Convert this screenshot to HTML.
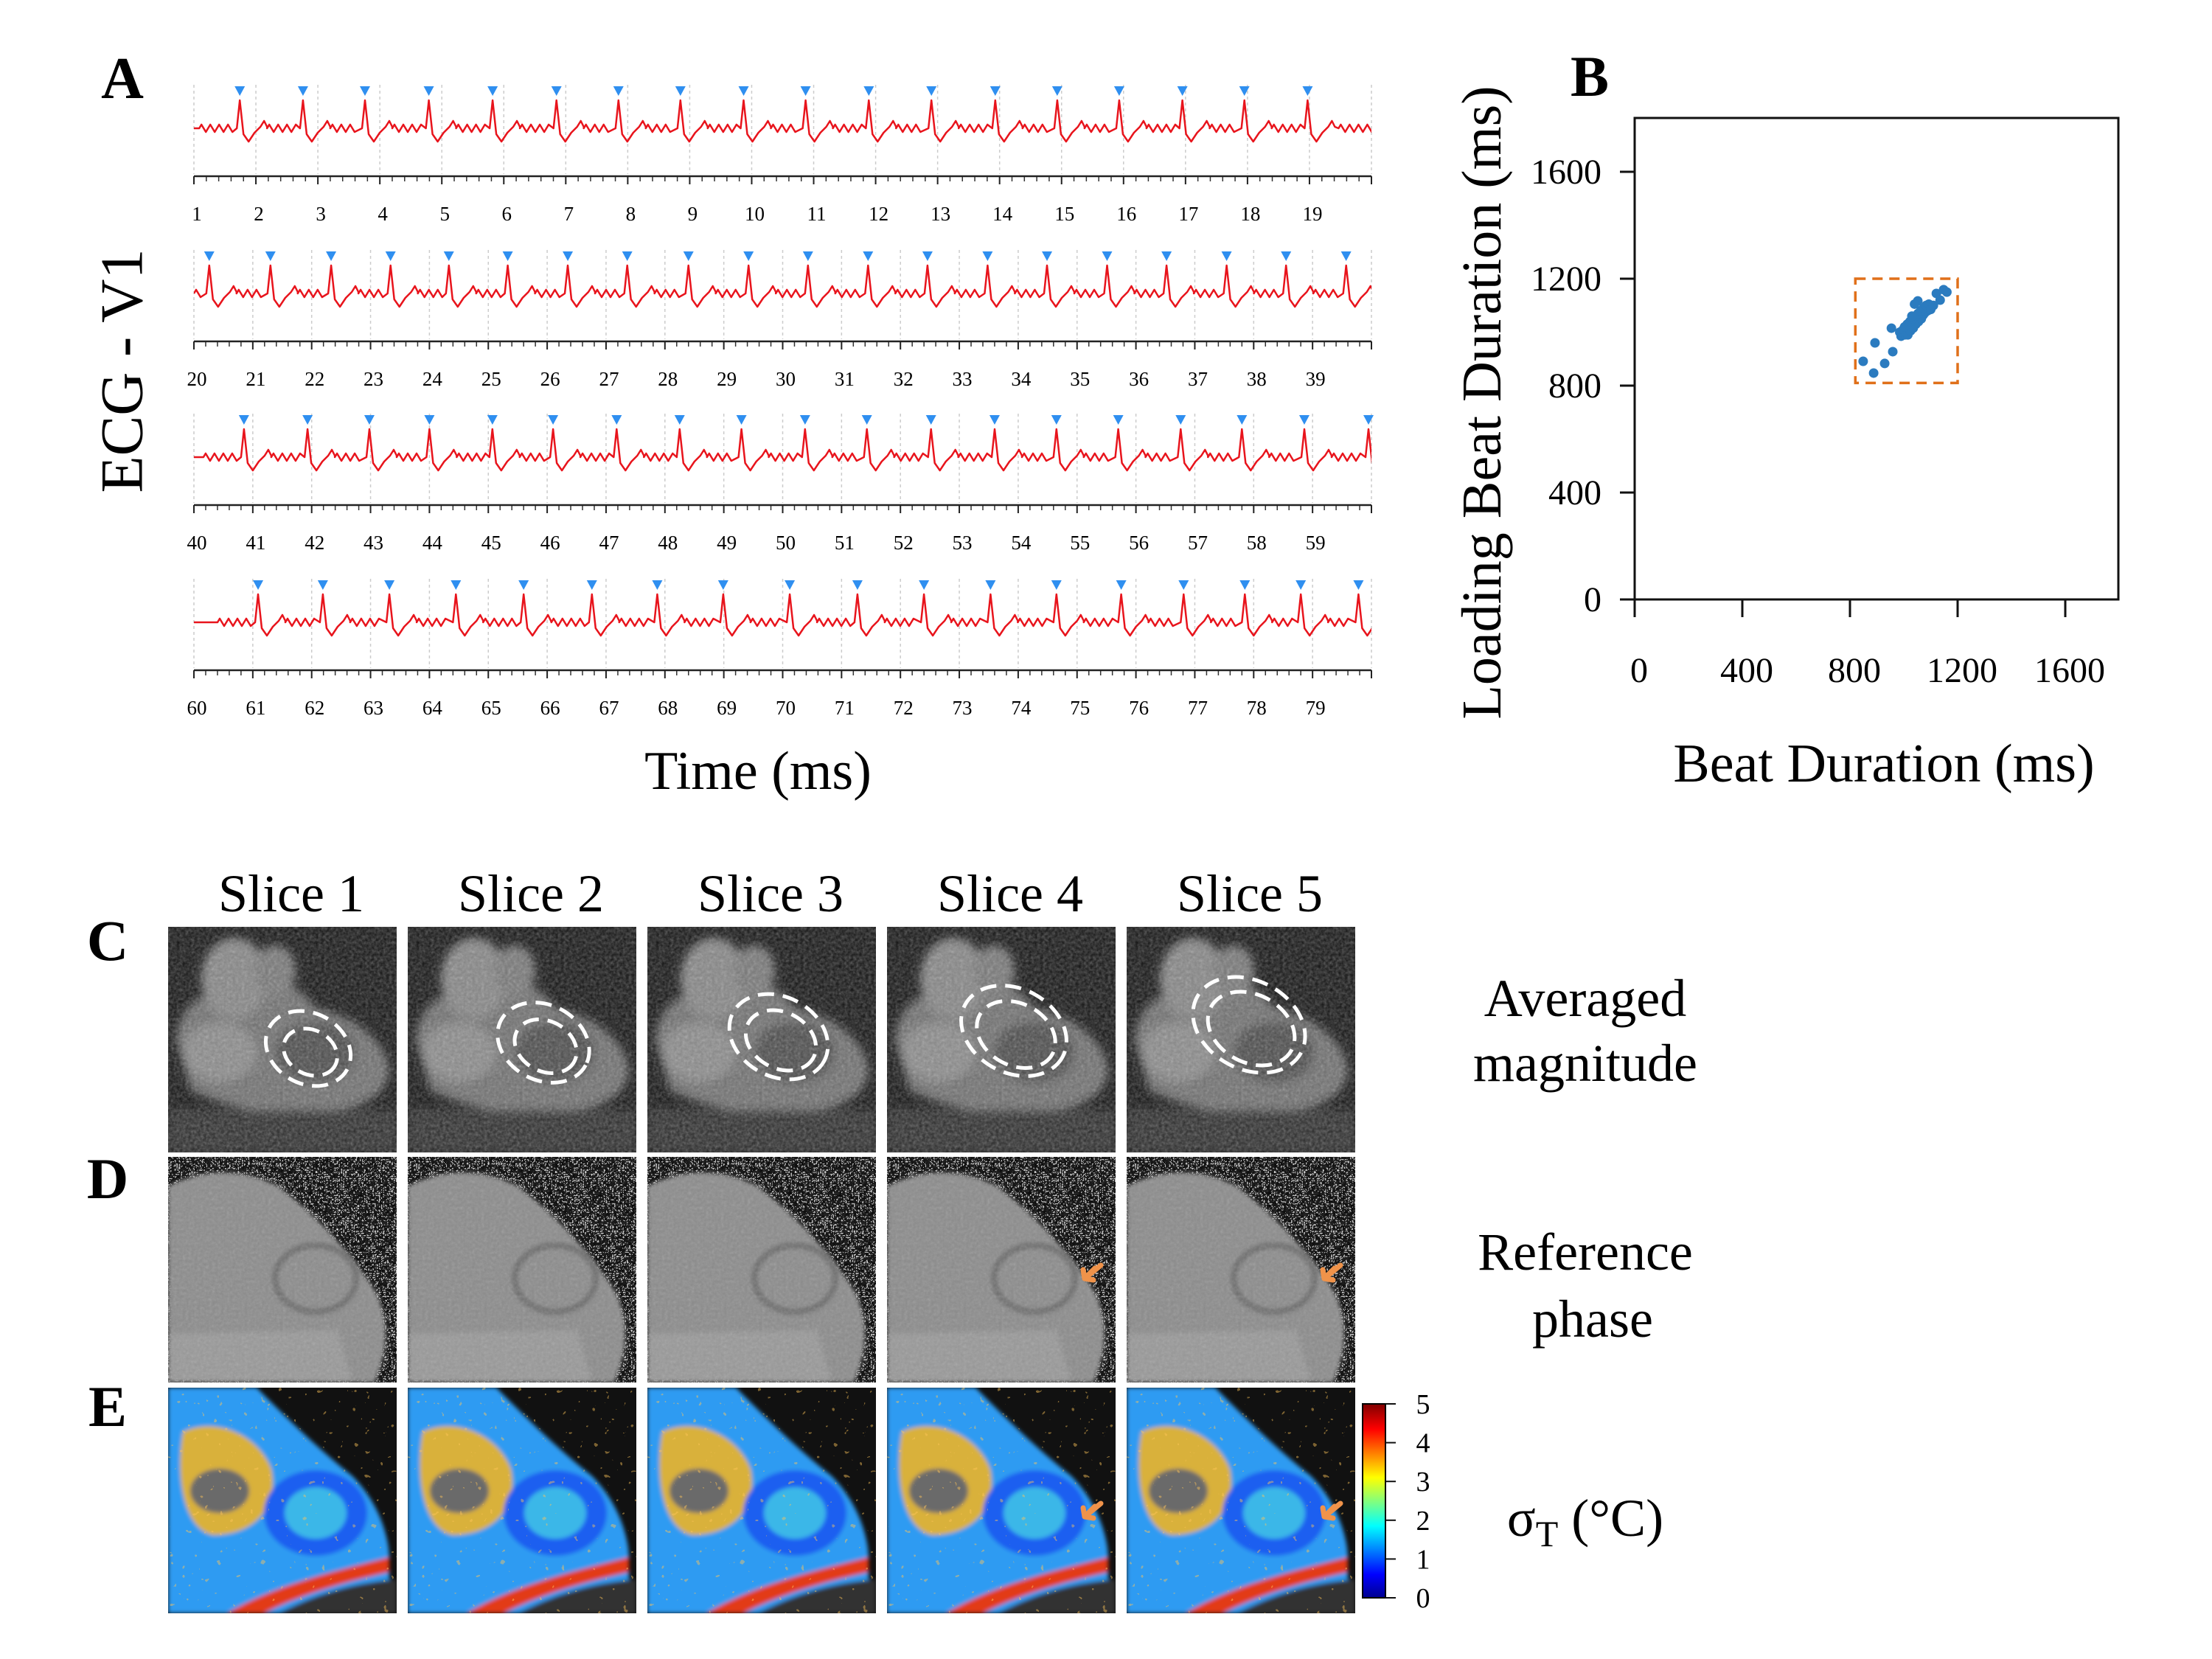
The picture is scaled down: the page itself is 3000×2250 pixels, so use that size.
<!DOCTYPE html>
<html><head><meta charset="utf-8"><style>
html,body{margin:0;padding:0;background:#fff}
svg{display:block}
text{font-family:"Liberation Serif",serif;fill:#000}
</style></head><body>
<svg id="fig" width="3000" height="2250" viewBox="0 0 3000 2250" xmlns="http://www.w3.org/2000/svg">
<defs>
  <linearGradient id="jet" x1="0" y1="1" x2="0" y2="0">
    <stop offset="0" stop-color="#00008f"/><stop offset="0.12" stop-color="#0000ff"/>
    <stop offset="0.37" stop-color="#00ffff"/><stop offset="0.62" stop-color="#ffff00"/>
    <stop offset="0.87" stop-color="#ff0000"/><stop offset="1" stop-color="#800000"/>
  </linearGradient>
  <filter id="blur6"><feGaussianBlur stdDeviation="6"/></filter>
  <filter id="blur3"><feGaussianBlur stdDeviation="3"/></filter>
  <filter id="grain" x="0" y="0" width="100%" height="100%">
    <feTurbulence type="fractalNoise" baseFrequency="0.25" numOctaves="2" seed="3"/>
    <feColorMatrix type="saturate" values="0"/>
    <feComponentTransfer><feFuncA type="table" tableValues="0 0.45"/></feComponentTransfer>
  </filter>
  <filter id="salt" x="0" y="0" width="100%" height="100%">
    <feTurbulence type="turbulence" baseFrequency="0.35" numOctaves="1" seed="7"/>
    <feColorMatrix type="saturate" values="0"/>
    <feComponentTransfer><feFuncR type="discrete" tableValues="0 0.5 1 1"/><feFuncG type="discrete" tableValues="0 0.5 1 1"/><feFuncB type="discrete" tableValues="0 0.5 1 1"/><feFuncA type="table" tableValues="1 1"/></feComponentTransfer>
  </filter>
  <filter id="speck" x="0" y="0" width="100%" height="100%">
    <feTurbulence type="fractalNoise" baseFrequency="0.12" numOctaves="2" seed="11"/>
    <feComponentTransfer><feFuncA type="discrete" tableValues="0 0 0 0.9"/></feComponentTransfer>
    <feColorMatrix type="matrix" values="0 0 0 0 1  0 0 0 0 0.55  0 0 0 0 0.1  0 0 0 1 0"/>
  </filter>
  <clipPath id="imgclip"><rect x="0" y="0" width="310" height="306"/></clipPath>
  <clipPath id="ecgclip"><rect x="263" y="0" width="1597" height="1000"/></clipPath>

  <g id="magImg">
    <rect width="310" height="306" fill="#101010"/>
    <g filter="url(#blur6)">
      <path d="M10,150 C20,90 70,80 100,90 C130,60 170,70 200,110 C250,120 290,150 300,190 C300,230 260,250 200,250 C140,260 60,240 30,220 Z" fill="#6e6e6e"/>
      <ellipse cx="90" cy="70" rx="45" ry="55" fill="#858585"/>
      <ellipse cx="145" cy="60" rx="28" ry="35" fill="#777"/>
      <ellipse cx="70" cy="170" rx="50" ry="40" fill="#8a8a8a"/>
      <ellipse cx="200" cy="170" rx="55" ry="42" fill="#4a4a4a"/>
      <rect x="0" y="248" width="310" height="58" fill="#2a2a2a"/>
    </g>
    <rect width="310" height="306" filter="url(#grain)"/>
  </g>
  <g id="phaseImg">
    <rect width="310" height="306" filter="url(#salt)"/>
    <g filter="url(#blur3)">
      <path d="M0,40 C60,10 110,20 150,40 C200,80 240,120 280,180 C300,220 300,260 280,306 L0,306 Z" fill="#8c8c8c"/>
      <path d="M0,240 L230,235 L250,306 L0,306 Z" fill="#999"/>
    </g>
    <ellipse cx="200" cy="165" rx="55" ry="45" fill="none" stroke="#6a6a6a" stroke-width="8" filter="url(#blur3)"/>
    <rect width="310" height="306" filter="url(#grain)" opacity="0.6"/>
  </g>
  <g id="sigmaImg">
    <rect width="310" height="306" fill="#111"/>
    <g filter="url(#blur3)">
      <path d="M0,0 L120,0 C160,40 200,80 250,120 C290,160 300,210 300,230 L300,306 L0,306 Z" fill="#2f9bf2"/>
      <path d="M20,60 C60,40 120,60 140,110 C150,160 120,200 60,200 C20,190 10,120 20,60 Z" fill="#d9b13a"/>
      <ellipse cx="70" cy="140" rx="40" ry="30" fill="#6b6b6b"/>
      <ellipse cx="200" cy="170" rx="70" ry="58" fill="#1c5ff0"/>
      <ellipse cx="200" cy="170" rx="42" ry="35" fill="#3bb7e8"/>
      <path d="M80,306 C140,270 220,250 300,230 L300,250 C230,265 170,285 130,306 Z" fill="#e23a16"/>
      <path d="M150,306 C200,280 250,265 310,260 L310,306 Z" fill="#333"/>
    </g>
    <rect width="310" height="306" filter="url(#speck)" opacity="0.5"/>
  </g>
  <g id="arrow"><path d="M0,0 L14,-14 M0,0 L-2,-12 M0,0 L12,2 M0,0 L22,-18" stroke="#f0934a" stroke-width="7" fill="none" stroke-linecap="round"/></g>
</defs>

<!-- Panel A -->
<text x="166" y="133" font-size="80" font-weight="bold" text-anchor="middle">A</text>
<text transform="translate(165,503) rotate(-90)" font-size="82" text-anchor="middle" dominant-baseline="central">ECG - V1</text>
<text x="1028" y="1070" font-size="74" text-anchor="middle">Time (ms)</text>
<g id="ecg"></g>

<!-- Panel B -->
<text x="2156" y="130" font-size="78" font-weight="bold" text-anchor="middle">B</text>
<g id="scatter"></g>
<text x="2555" y="1060" font-size="74" text-anchor="middle">Beat Duration (ms)</text>
<text transform="translate(2010,546) rotate(-90)" font-size="76" text-anchor="middle" dominant-baseline="central">Loading Beat Duration (ms)</text>

<!-- Panels C D E -->
<g id="mri"></g>
<text x="146" y="1302" font-size="78" font-weight="bold" text-anchor="middle">C</text>
<text x="146" y="1625" font-size="78" font-weight="bold" text-anchor="middle">D</text>
<text x="146" y="1934" font-size="78" font-weight="bold" text-anchor="middle">E</text>
<text x="2150" y="1378" font-size="72" text-anchor="middle">Averaged</text>
<text x="2150" y="1466" font-size="72" text-anchor="middle">magnitude</text>
<text x="2150" y="1722" font-size="72" text-anchor="middle">Reference</text>
<text x="2160" y="1813" font-size="72" text-anchor="middle">phase</text>
<text x="2150" y="2083" font-size="72" text-anchor="middle">σ<tspan font-size="50" dy="14">T</tspan><tspan dy="-14"> (°C)</tspan></text>
<rect x="1848" y="1904" width="31" height="263" fill="url(#jet)" stroke="#000" stroke-width="2"/>
<g id="cbticks"></g>
</svg>
<script>
const NS="http://www.w3.org/2000/svg";
function mk(tag,attrs,parent){const e=document.createElementNS(NS,tag);for(const k in attrs)e.setAttribute(k,attrs[k]);parent.appendChild(e);return e;}

// ---------- ECG data ----------
const rowStarts=[1,20,40,60];
const rowSpans=[19,20,20,20];
const rowLabelCounts=[19,20,20,20];
const beatsRow1=[1.74,2.76,3.76,4.79,5.82,6.85,7.85,8.85,9.87,10.87,11.89,12.9,13.93,14.93,15.93,16.95,17.95,18.97];
const beatsRow2=[20.26,21.3,22.33,23.34,24.33,25.33,26.35,27.36,28.4,29.42,30.43,31.45,32.46,33.48,34.49,35.51,36.52,37.54,38.55,39.57];
const beatsRow3=[40.85,41.93,42.98,44.0,45.07,46.1,47.18,48.25,49.3,50.38,51.43,52.52,53.6,54.65,55.7,56.76,57.8,58.86,59.95];
const beatsRow4=[61.09,62.19,63.32,64.45,65.6,66.76,67.87,68.99,70.12,71.27,72.4,73.53,74.65,75.75,76.81,77.85,78.8,79.78];
const beatRows=[beatsRow1,beatsRow2,beatsRow3,beatsRow4];
const axisY=[239,463,685,909];
const X0=263,X1=1860;

const ecg=document.getElementById('ecg');
for(let r=0;r<4;r++){
  const step=(X1-X0)/rowSpans[r];
  const xs=v=>X0+(v-rowStarts[r])*step;
  const ay=axisY[r], base=ay-65;
  const g=mk('g',{},ecg);
  
  
  for(let i=0;i<=rowSpans[r];i++){
    const x=X0+i*step;
    const gl=mk('line',{x1:x,x2:x,y1:ay-124,y2:ay-3,stroke:'#ccc','stroke-width':1.5,'stroke-dasharray':'4,4'},g);
    
    
    mk('line',{x1:x,x2:x,y1:ay,y2:ay+11,stroke:'#222','stroke-width':2},g);
    for(let m=1;m<5&&i<rowSpans[r];m++){const xm=x+m*step/5;mk('line',{x1:xm,x2:xm,y1:ay,y2:ay+7,stroke:'#333','stroke-width':1.5},g);}
    if(i<rowLabelCounts[r]){
      const t=mk('text',{x:x+4,y:ay+60,'font-size':27,'text-anchor':'middle'},g);
      t.textContent=rowStarts[r]+i;
      
      
    }
  }
  const ax=mk('line',{x1:X0,x2:X1,y1:ay,y2:ay,stroke:'#222','stroke-width':2.5},g);
  
  
  const beats=beatRows[r];
  let cur=X0;
  const pts=[[X0,base]];
  function noise(from,to){for(let k=0;from+6*(k+1)<to;k++){pts.push([from+6*k+3,base+(k%2?5:-5)]);}}
  beats.forEach(b=>{
    const s=xs(b);
    const ns=Math.max(cur,s-55);
    pts.push([ns,base]);
    noise(ns,s-6);
    pts.push([s-4,base]);pts.push([s,base-38]);pts.push([s+5,base+8]);pts.push([s+12,base+18]);
    pts.push([s+20,base+6]);pts.push([s+28,base-2]);pts.push([s+33,base-10]);pts.push([s+37,base-2]);
    cur=s+37;
  });
  if(cur<X1){pts.push([cur+5,base]);noise(cur+5,X1+10);}
  pts.push([X1+10,base]);
  let d='';
  pts.forEach((p,i)=>{d+=(i?' L':'M')+p[0].toFixed(1)+','+p[1].toFixed(1);});
  const tr=mk('path',{d:d,fill:'none',stroke:'#e8141c','stroke-width':2.5,'stroke-linejoin':'round','clip-path':'url(#ecgclip)'},g);
  
  
  beats.forEach(b=>{
    const s=xs(b);
    const tri=mk('path',{d:`M${s-7},${ay-122} L${s+7},${ay-122} L${s},${ay-109} Z`,fill:'#2f8ff0'},g);
    
    
  });
}

// ---------- Scatter data ----------
const xTicks=[0,400,800,1200,1600];
const yTicks=[0,400,800,1200,1600];
const beatDur=[849,888,893,929,959,954,1148,1121,1052,1135,1160,
 990,1000,1005,1010,1015,1020,1025,1030,1035,1040,1045,1050,1055,1060,1065,1070,1075,1080,1085,1090,1095,
 995,1005,1012,1018,1028,1038,1042,1048,1058,1062,1068,1078,1088,1098,1008,1022,1032,1052,1072,1082,
 985,998,1010,1020,1030,1040,1050,1060,1070,1080,1015,1025,1035,1045,1055,1065,1003,1013,1023,1033,1043,1053,1063,1073,1083,1093,1100,1110,1040,1030];
const loadDur=[891,847,960,883,927,1015,1159,1145,1117,1120,1150,
 985,995,1000,1010,1008,1018,1022,1028,1035,1037,1045,1048,1055,1058,1066,1068,1072,1080,1082,1088,1095,
 1005,990,1015,1025,1020,1030,1050,1040,1050,1070,1060,1072,1080,1090,1020,1012,1042,1060,1064,1090,
 1000,1010,1025,1035,1045,1055,1065,1075,1085,1095,990,1005,1015,1030,1040,1050,1020,1030,1040,1050,1060,1070,1080,1090,1100,1105,1085,1100,1105,1060];
const boxX=[820,1200], boxY=[810,1200];

const sc=document.getElementById('scatter');
const PX0=2217,PX1=2873,PY0=813,PYT=160;
const sx=v=>PX0+v*(2801-2217)/1600;
const sy=v=>PY0-v*(813-233)/1600;
const frame=mk('rect',{x:PX0,y:PYT,width:PX1-PX0,height:PY0-PYT,fill:'none',stroke:'#111','stroke-width':3},sc);


xTicks.forEach(v=>{
  mk('line',{x1:sx(v),x2:sx(v),y1:PY0,y2:PY0+24,stroke:'#111','stroke-width':3},sc);
  const t=mk('text',{x:sx(v)+6,y:925,'font-size':48,'text-anchor':'middle'},sc);
  t.textContent=v;
  
  
});
mk('line',{x1:PX0-20,x2:PX0,y1:PY0,y2:PY0,stroke:'#111','stroke-width':3},sc);
yTicks.forEach(v=>{
  mk('line',{x1:PX0-20,x2:PX0,y1:sy(v),y2:sy(v),stroke:'#111','stroke-width':3},sc);
  const t=mk('text',{x:PX0-45,y:sy(v)+16,'font-size':48,'text-anchor':'end'},sc);
  t.textContent=v;
  
  
});
const bx=mk('rect',{x:sx(boxX[0]),y:sy(boxY[1]),width:sx(boxX[1])-sx(boxX[0]),height:sy(boxY[0])-sy(boxY[1]),fill:'none',stroke:'#e0701a','stroke-width':3.5,'stroke-dasharray':'14,9'},sc);


beatDur.forEach((v,i)=>{
  const c=mk('circle',{cx:sx(v),cy:sy(loadDur[i]),r:6.5,fill:'#2b7bbf'},sc);
  
  
});

// ---------- MRI panels ----------
const colX=[228,553,878,1203,1528];
const rowYs=[1257,1569,1882];
const rowIds=['magImg','phaseImg','sigmaImg'];
const rowNames=['magnitude','phase','sigma'];
const mri=document.getElementById('mri');
colX.forEach((x,c)=>{
  const t=mk('text',{x:x+167,y:1236,'font-size':72,'text-anchor':'middle'},mri);
  t.textContent='Slice '+(c+1);
  
  
  rowYs.forEach((y,r)=>{
    const g=mk('g',{transform:`translate(${x},${y})`,'clip-path':'url(#imgclip)'},mri);
    
    
    mk('use',{href:'#'+rowIds[r]},g);
    if(r===0){
      const cx=190-c*6, cy=165-c*8;
      mk('ellipse',{cx:cx,cy:cy,rx:60+c*5,ry:48+c*3,transform:`rotate(28 ${cx} ${cy})`,fill:'none',stroke:'#fff','stroke-width':5,'stroke-dasharray':'22,12'},g);
      mk('ellipse',{cx:cx+5,cy:cy+3,rx:38+c*6,ry:30+c*4,transform:`rotate(28 ${cx} ${cy})`,fill:'none',stroke:'#fff','stroke-width':5,'stroke-dasharray':'22,12'},g);
    }
    if(c>=3 && r>0){
      const ay=(r===1)?165:175;
      const a=mk('use',{href:'#arrow',transform:`translate(268,${ay})`},g);
      
      
    }
  });
});
const cbv=[0,1,2,3,4,5];
const cb=document.getElementById('cbticks');
cbv.forEach(v=>{
  const y=2167-v*(2167-1904)/5;
  mk('line',{x1:1879,x2:1893,y1:y,y2:y,stroke:'#111','stroke-width':2},cb);
  const t=mk('text',{x:1930,y:y+13,'font-size':38,'text-anchor':'middle'},cb);
  t.textContent=v;
  
  
});
</script>
</body></html>
